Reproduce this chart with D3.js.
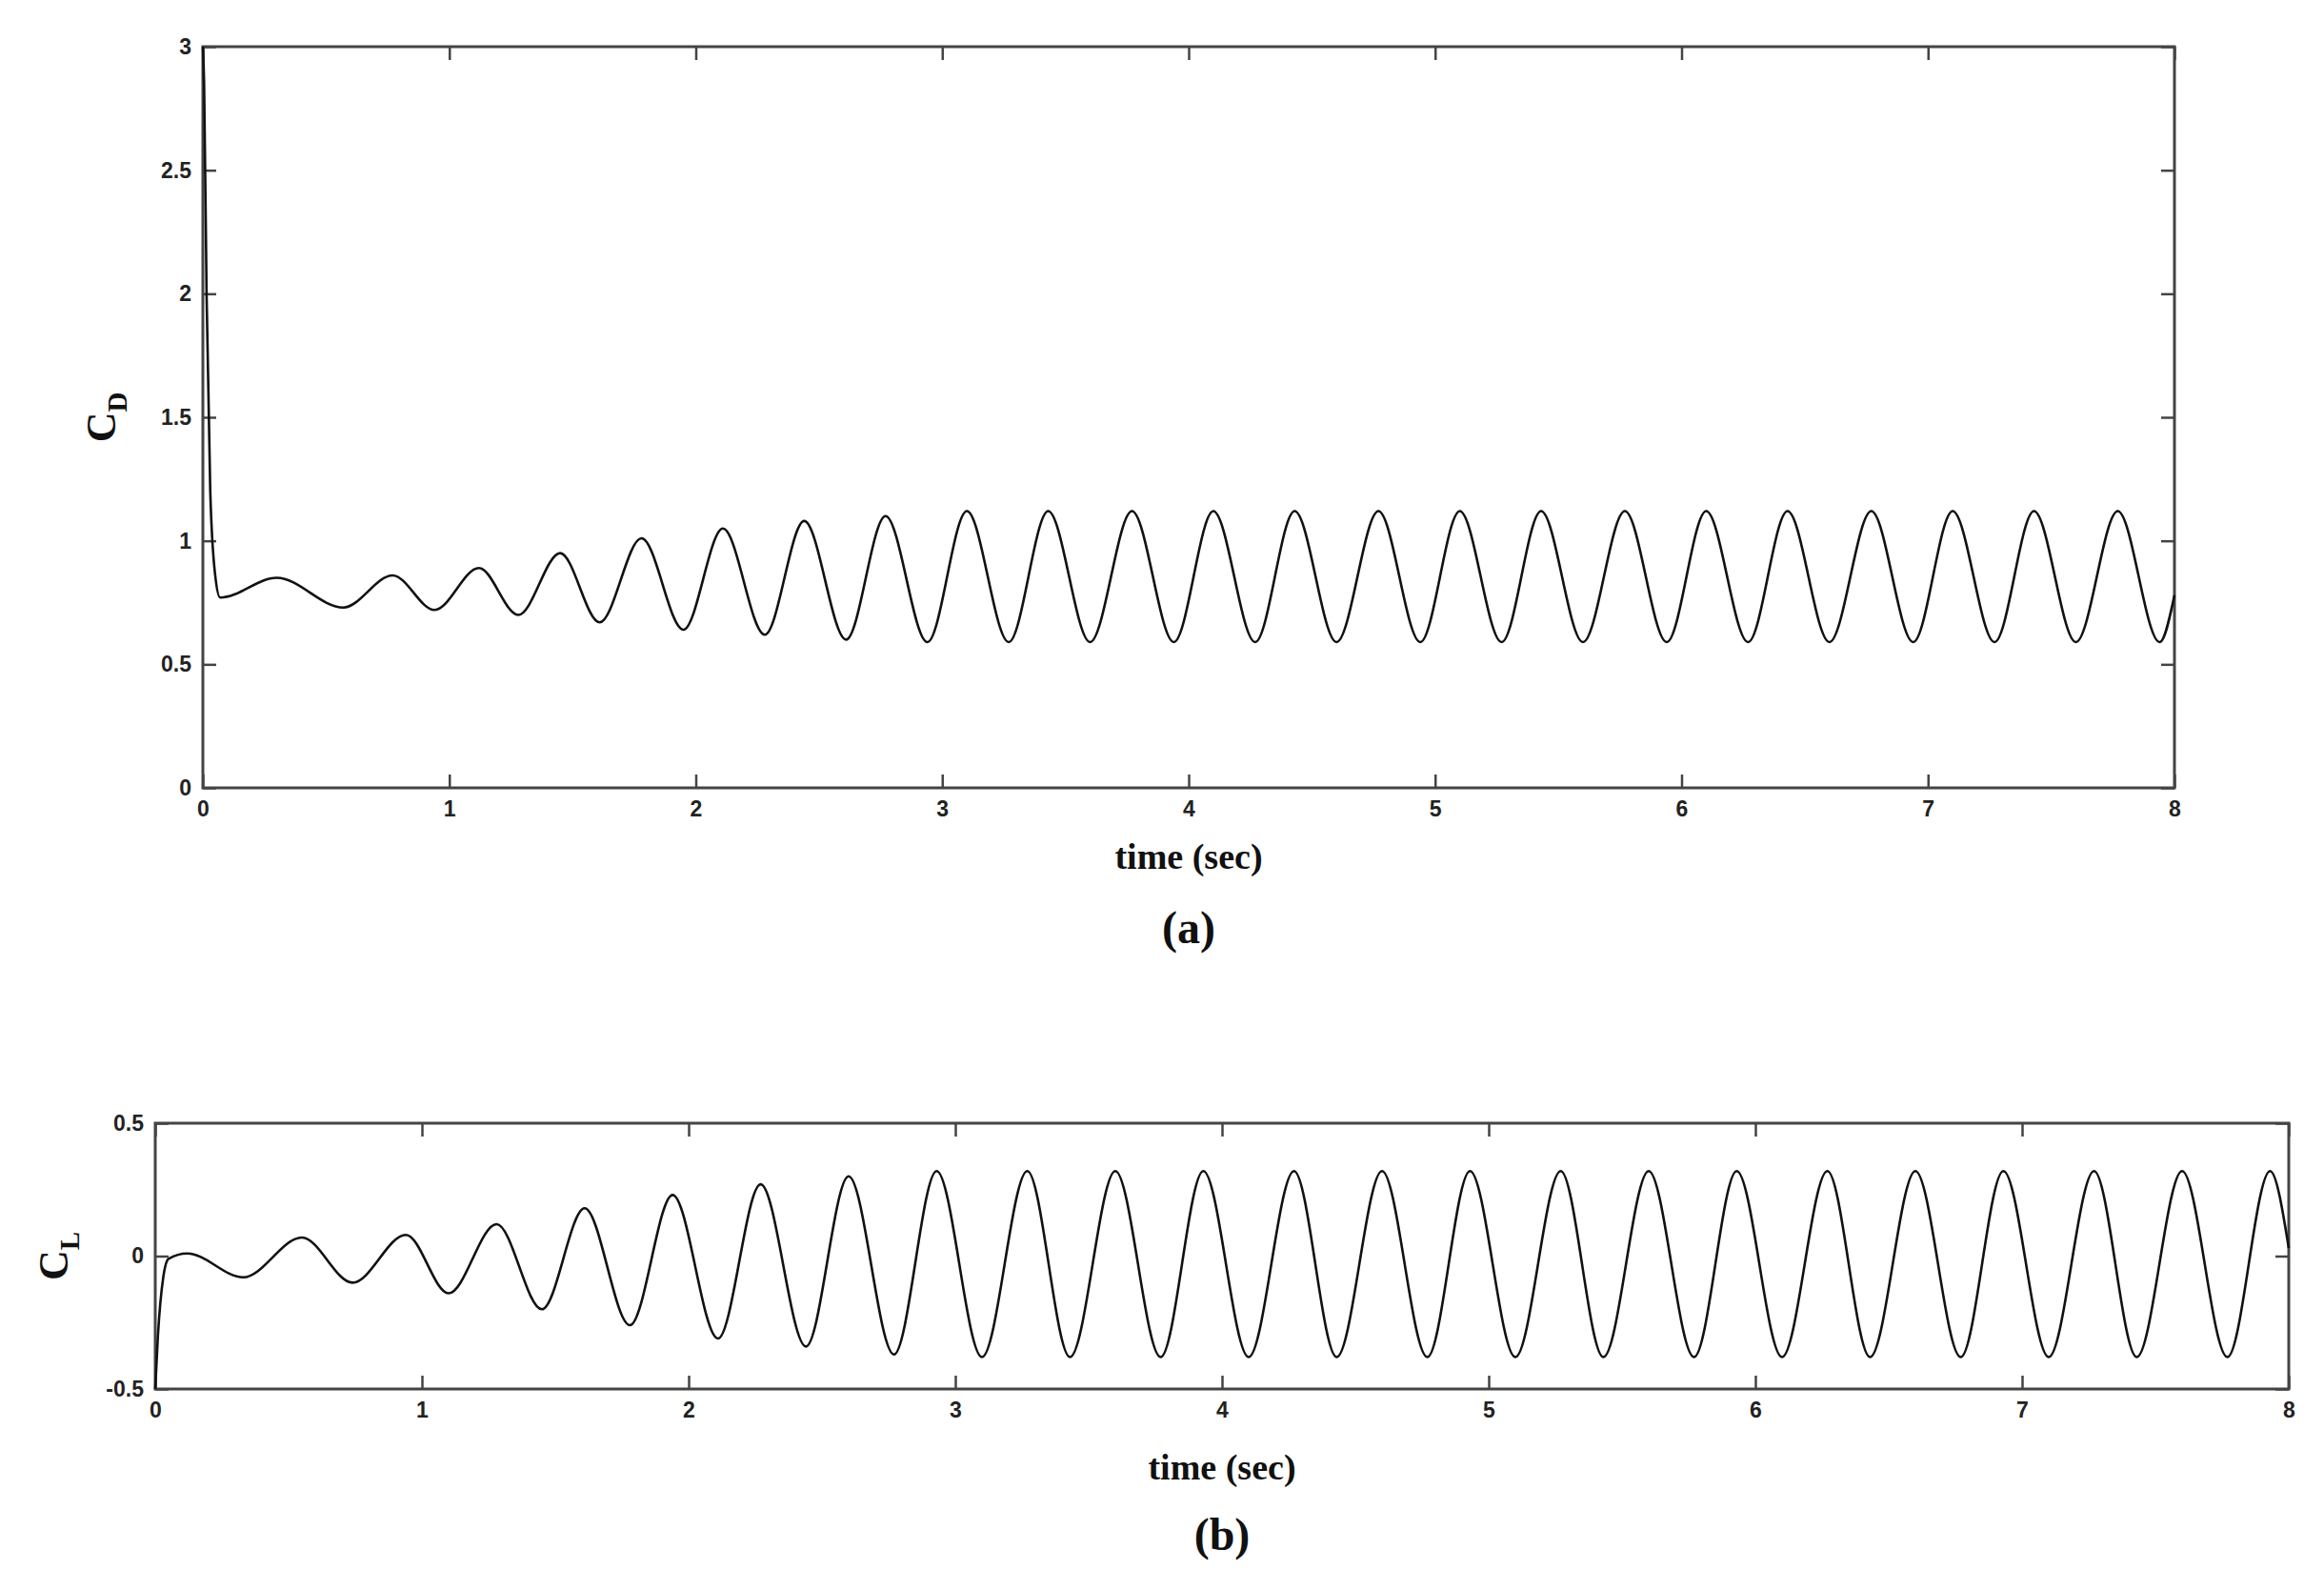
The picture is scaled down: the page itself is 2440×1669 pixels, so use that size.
<!DOCTYPE html>
<html>
<head>
<meta charset="utf-8">
<script src="https://cdn.jsdelivr.net/npm/d3@7"></script>
<style>
body { margin: 0; background: #fff; }
.tick text { font-family: "Liberation Sans", Arial, sans-serif; font-weight: bold; font-size: 23px; fill: #222; }
.title { font-family: "Liberation Serif", "Times New Roman", serif; font-weight: bold; fill: #111; }
</style>
</head>
<body>
<svg id="chart" width="2440" height="1669"></svg>
<script>
// drag coefficient, extrema
var cd_time = [0, 0.005, 0.015, 0.03, 0.05, 0.07, 0.30, 0.57, 0.77, 0.94, 1.12, 1.28, 1.45, 1.61, 1.78, 1.95, 2.11, 2.28, 2.44, 2.61, 2.77,
    2.94, 3.10, 3.27, 3.43, 3.60, 3.77, 3.94, 4.10, 4.27, 4.43, 4.60, 4.77, 4.94, 5.10, 5.27, 5.43, 5.60, 5.77, 5.94,
    6.10, 6.27, 6.43, 6.60, 6.77, 6.94, 7.10, 7.27, 7.43, 7.60, 7.77, 7.94, 8.0];
var cd_value = [3.0, 2.85, 2.0, 1.2, 0.86, 0.77, 0.85, 0.73, 0.86, 0.72, 0.89, 0.70, 0.95, 0.67, 1.01, 0.64, 1.05, 0.62, 1.08, 0.60, 1.10,
    0.59, 1.12, 0.59, 1.12, 0.59, 1.12, 0.59, 1.12, 0.59, 1.12, 0.59, 1.12, 0.59, 1.12, 0.59, 1.12, 0.59, 1.12, 0.59,
    1.12, 0.59, 1.12, 0.59, 1.12, 0.59, 1.12, 0.59, 1.12, 0.59, 1.12, 0.59, 0.78];

// lift coefficient, extrema
var cl_time = [0, 0.01, 0.03, 0.05, 0.12, 0.33, 0.55, 0.74, 0.94, 1.10, 1.28, 1.45, 1.61, 1.78, 1.94, 2.11, 2.27, 2.44, 2.60, 2.77, 2.93,
    3.10, 3.27, 3.43, 3.60, 3.77, 3.93, 4.10, 4.27, 4.43, 4.60, 4.77, 4.93, 5.10, 5.27, 5.43, 5.60, 5.77, 5.93,
    6.10, 6.27, 6.43, 6.60, 6.77, 6.93, 7.10, 7.27, 7.43, 7.60, 7.77, 7.93, 8.0];
var cl_value = [-0.5, -0.3, -0.08, -0.01, 0.01, -0.08, 0.07, -0.10, 0.08, -0.14, 0.12, -0.20, 0.18, -0.26, 0.23, -0.31, 0.27, -0.34, 0.30, -0.37, 0.32,
    -0.38, 0.32, -0.38, 0.32, -0.38, 0.32, -0.38, 0.32, -0.38, 0.32, -0.38, 0.32, -0.38, 0.32, -0.38, 0.32, -0.38, 0.32,
    -0.38, 0.32, -0.38, 0.32, -0.38, 0.32, -0.38, 0.32, -0.38, 0.32, -0.38, 0.32, 0.03];

var x_ticks = [0, 1, 2, 3, 4, 5, 6, 7, 8];
var cd_ticks = [0, 0.5, 1, 1.5, 2, 2.5, 3];
var cl_ticks = [-0.5, 0, 0.5];

var svg = d3.select("#chart");

draw_panel({ left: 213, right: 2283, top: 49, bottom: 827 }, [0, 3], cd_ticks, cd_time, cd_value, "D", "(a)", 912, 990);
draw_panel({ left: 163, right: 2403, top: 1179, bottom: 1458 }, [-0.5, 0.5], cl_ticks, cl_time, cl_value, "L", "(b)", 1553, 1627);

function draw_panel(box, y_dom, y_ticks, tt, vv, sub, tag, title_y, tag_y) {
    var x = d3.scaleLinear().domain([0, 8]).range([box.left, box.right]);
    var y = d3.scaleLinear().domain(y_dom).range([box.bottom, box.top]);
    var g = svg.append("g");

    // axes with inward ticks on all four sides
    var fmt = d => String(d); // plain hyphen for negatives
    g.append("g").attr("transform", "translate(0," + box.bottom + ")")
        .call(d3.axisBottom(x).tickValues(x_ticks).tickFormat(fmt).tickSizeInner(-14).tickSizeOuter(0).tickPadding(14));
    g.append("g").attr("transform", "translate(0," + box.top + ")")
        .call(d3.axisTop(x).tickValues(x_ticks).tickFormat("").tickSizeInner(-14).tickSizeOuter(0));
    g.append("g").attr("transform", "translate(" + box.left + ",0)")
        .call(d3.axisLeft(y).tickValues(y_ticks).tickFormat(fmt).tickSizeInner(-14).tickSizeOuter(0).tickPadding(12));
    g.append("g").attr("transform", "translate(" + box.right + ",0)")
        .call(d3.axisRight(y).tickValues(y_ticks).tickFormat("").tickSizeInner(-14).tickSizeOuter(0));
    g.selectAll(".domain").remove();
    g.selectAll(".tick line").attr("stroke", "#444").attr("stroke-width", 2.5);
    g.append("rect").attr("x", box.left).attr("y", box.top)
        .attr("width", box.right - box.left).attr("height", box.bottom - box.top)
        .attr("fill", "none").attr("stroke", "#444").attr("stroke-width", 3);

    // series
    var pts = tt.map(function (t, i) { return [t, vv[i]]; });
    g.append("path").datum(pts)
        .attr("d", d3.line().x(d => x(d[0])).y(d => y(d[1])).curve(d3.curveMonotoneX))
        .attr("fill", "none").attr("stroke", "#111").attr("stroke-width", 2.6);

    // titles
    var cx = (box.left + box.right) / 2;
    g.append("text").classed("title", true).attr("x", cx).attr("y", title_y)
        .attr("text-anchor", "middle").style("font-size", "38px").text("time (sec)");
    g.append("text").classed("title", true).attr("x", cx).attr("y", tag_y)
        .attr("text-anchor", "middle").style("font-size", "48px").text(tag);
    var ylab = g.append("text").classed("title", true)
        .attr("transform", "translate(" + (box.left - 92) + "," + ((box.top + box.bottom) / 2) + ") rotate(-90)")
        .attr("text-anchor", "middle").style("font-size", "44px");
    ylab.append("tspan").text("C");
    ylab.append("tspan").attr("dy", 12).style("font-size", "29px").text(sub);
}
</script>
</body>
</html>
